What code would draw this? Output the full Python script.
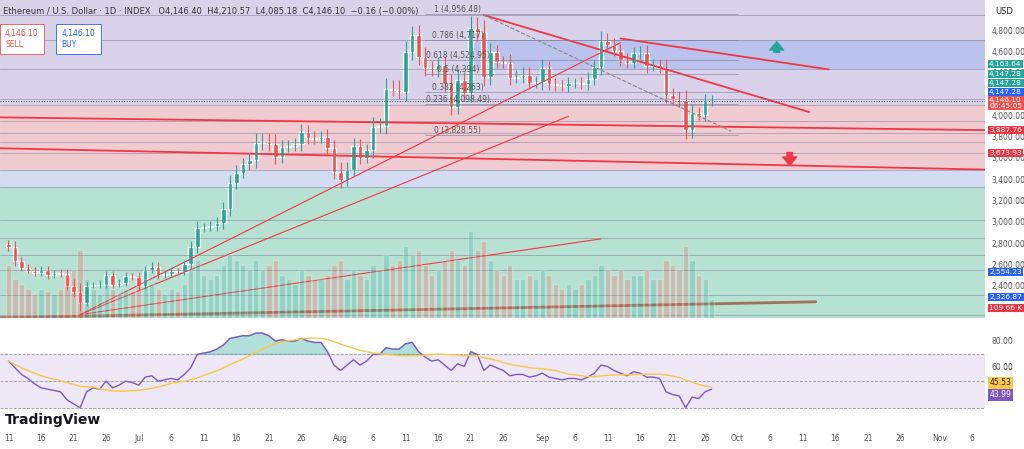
import numpy as np, pandas as pd, seaborn as sns, matplotlib
matplotlib.use("Agg")
import matplotlib.pyplot as plt

sns.set_style("white")
start = pd.Timestamp("2025-06-11")
closes = [2770,2640,2580,2550,2530,2560,2510,2530,2520,2410,2350,2250,2410,2420,2420,2510,2420,2440,2500,2490,
          2410,2560,2590,2510,2520,2550,2540,2610,2770,2950,2960,2970,3000,3130,3370,3470,3550,3590,3750,3760,
          3740,3620,3710,3720,3740,3850,3800,3790,3810,3700,3480,3400,3500,3720,3610,3680,3900,3910,4260,4250,
          4230,4600,4760,4560,4450,4430,4480,4300,4090,4340,4220,4830,4790,4370,4600,4510,4500,4360,4370,4390,
          4310,4320,4450,4300,4290,4280,4310,4310,4300,4350,4460,4710,4670,4610,4530,4500,4590,4590,4470,4480,
          4450,4200,4160,4150,3870,4030,4010,4140,4146]
opens = [2800] + closes[:-1]
wick = [40,60,40,30,40,40,40,30,40,50,60,90,40,30,40,40,40,30,40,30,
        50,40,40,40,30,40,30,40,60,70,40,50,60,70,80,70,60,70,90,80,
        80,90,70,60,60,80,70,60,50,70,80,90,70,80,70,60,90,70,100,80,
        90,110,90,100,90,70,80,90,100,90,80,110,100,110,90,70,60,80,60,70,
        70,60,90,70,60,50,60,50,60,70,70,90,70,60,70,60,60,70,80,60,
        60,90,70,80,100,90,60,70,50]
volume = [55,40,35,30,25,30,28,25,30,45,50,70,40,30,25,35,30,25,30,28,
          45,40,35,30,25,30,28,35,50,60,45,40,45,55,65,60,55,50,60,50,
          55,60,45,40,35,50,45,40,40,45,55,60,40,50,45,40,55,50,65,55,
          60,75,65,70,55,45,50,60,70,60,55,90,70,80,60,50,45,55,40,40,
          45,40,50,45,35,30,35,30,35,40,45,55,50,45,50,40,45,45,50,40,
          40,60,55,50,75,60,45,40,20]
rsi = [65,60,55,52,48,45,44,43,42,36,33,30,42,45,44,50,45,47,50,49,
       47,53,54,50,51,52,51,55,60,70,71,72,74,77,82,83,84,84,86,86,
       84,80,81,80,80,82,80,79,79,72,62,58,62,66,62,65,70,70,75,74,
       74,78,79,72,68,65,66,62,58,63,61,72,70,58,62,60,58,54,55,55,
       53,54,56,53,52,51,52,52,51,53,56,62,61,58,56,54,57,56,53,53,
       52,42,40,39,30,38,37,42,44]
price_ticks = [4800,4600,4400,3400,3200,3000,2800,2600,2400,3800,3600,4000]
tag_colors = ["#26a69a","#26a69a","#26a69a","#2962ff","#ef5350","#f23645","#f23645","#2962ff","#2962ff","#f23645"]
tag_text = ["4,163.64","4,147.28","4,147.28","4,147.28","4,146.10\n06:45:05","3,887.76","3,673.93","2,554.23","2,326.87","109.66 K"]
tag_px = [64,74,83,92,103,130,153,272,297,308]

n = len(closes); x = np.arange(n)
fig = plt.figure(figsize=(10.24,4.49), dpi=100)
ax = fig.add_axes([0,0.292,0.962,0.708])
ylo, yhi = 2109, 5091
ax.set_ylim(ylo, yhi); ax.set_xlim(-1.3, 150)
ax.axhspan(4106, yhi, color="#b9aedb", alpha=0.55, lw=0)
ax.axhspan(3497, 4106, color="#e9a9b4", alpha=0.6, lw=0)
ax.axhspan(3338, 3497, color="#b8c6ec", alpha=0.6, lw=0)
ax.axhspan(ylo, 3338, color="#9fd8c3", alpha=0.75, lw=0)
ax.axhspan(4440, 4720, xmin=0.48, color="#9fb5ef", alpha=0.5, lw=0)
for p in [4950,4720,4440,4160,4106,3960,3840,3760,3660,3497,3338,3030,2860,2700,2554,2326,2140]:
    ax.axhline(p, color="#6b6b8a", lw=0.5, alpha=0.6)
axv = ax.twinx(); axv.set_ylim(0, 330); axv.axis("off")
vc = ["#26a69a" if c >= o else "#ef5350" for o, c in zip(opens, closes)]
axv.bar(x, volume, width=0.8, color=vc, alpha=0.25)
ax.plot([-1.3,150],[3990,3870],color="#f23645",lw=1.3)
ax.plot([-1.3,150],[3700,3500],color="#f23645",lw=1.3)
ax.plot([73,123],[4950,4040],color="#f23645",lw=1.3)
ax.plot([94,126],[4730,4440],color="#f23645",lw=1.3)
ax.plot([11,94],[2140,4690],color="#f23645",lw=0.8)
ax.plot([11,86],[2140,4000],color="#f23645",lw=0.8)
ax.plot([11,91],[2140,2850],color="#f23645",lw=0.8)
ax.plot([-1.3,124],[2110,2260],color="#a0725a",lw=2)
ax.plot([73,111],[4950,3860],color="#888",lw=0.8,ls="--")
for p,l in [(4956,"1 (4,956.48)"),(4717,"0.786 (4,717)"),(4524,"0.618 (4,524.95)"),(4394,"0.5 (4,394)"),(4230,"0.382 (4,263)"),(4120,"0.236 (4,098.49)"),(3828,"0 (3,828.55)")]:
    ax.plot([64,112],[p,p],color="#7f7f9f",lw=0.6,alpha=0.7)
    ax.text(69,p,l,fontsize=5.5,color="#555",va="bottom",ha="center")
ax.axhline(4146.1,color="#555",lw=0.7,ls=":")
cols = ["#26a69a" if c >= o else "#ef5350" for o, c in zip(opens, closes)]
hi = [max(o,c)+w for o,c,w in zip(opens,closes,wick)]
lo = [min(o,c)-w*0.8 for o,c,w in zip(opens,closes,wick)]
ax.vlines(x, lo, hi, color=cols, lw=0.8)
ax.bar(x, np.array(closes)-np.array(opens), bottom=opens, width=0.7, color=cols)
ax.annotate("",xy=(118,4700),xytext=(118,4600),arrowprops=dict(color="#26a69a",width=4,headwidth=10,headlength=6))
ax.annotate("",xy=(120,3540),xytext=(120,3660),arrowprops=dict(color="#f23645",width=4,headwidth=10,headlength=6))
ax.set_xticks([]); ax.set_yticks([])
for s in ax.spines.values(): s.set_visible(False)
for p in price_ticks:
    fig.text(0.968,(p-ylo)/(yhi-ylo)*0.708+0.292,f"{p:,.2f}",fontsize=5.5,color="#555",va="center")
for c,t,py in zip(tag_colors,tag_text,tag_px):
    fig.text(0.966,1-py/449,t,fontsize=5.3,color="white",va="center",linespacing=0.9,
             bbox=dict(boxstyle="square,pad=0.2",fc=c,ec="none"))
fig.text(0.972,0.975,"USD",fontsize=6,va="center")
fig.text(0.003,0.985,"Ethereum / U.S. Dollar · 1D · INDEX   O4,146.40  H4,210.57  L4,085.18  C4,146.10  −0.16 (−0.00%)",fontsize=6,va="top",color="#333")
fig.text(0.005,0.935,"4,146.10\nSELL",fontsize=5.5,color="#ef5350",va="top",bbox=dict(fc="white",ec="#ef5350",lw=0.6))
fig.text(0.06,0.935,"4,146.10\nBUY",fontsize=5.5,color="#2962ff",va="top",bbox=dict(fc="white",ec="#2962ff",lw=0.6))
ar = fig.add_axes([0,0.05,0.962,0.232])
ar.set_xlim(-1.3,150); ar.set_ylim(16,94)
ar.axhspan(30,70,color="#ede7f6",lw=0)
for h in [70,50,30]: ar.axhline(h,color="#999",lw=0.6,ls="--")
sns.lineplot(x=x,y=rsi,ax=ar,color="#7e57c2",lw=1)
ma = pd.Series(rsi).rolling(14,min_periods=1).mean()
sns.lineplot(x=x,y=ma,ax=ar,color="#f7c948",lw=1)
r = np.array(rsi,float)
ar.fill_between(x,70,r,where=r>70,color="#26a69a",alpha=0.35,interpolate=True)
ar.fill_between(x,30,r,where=r<30,color="#ef5350",alpha=0.35,interpolate=True)
ar.set_yticks([]); ar.set_xticks([])
for s in ar.spines.values(): s.set_visible(False)
for v in [80,60]:
    fig.text(0.968,0.05+(v-16)/78*0.232,f"{v:.2f}",fontsize=5.5,color="#555",va="center")
fig.text(0.966,0.05+(45.53-16)/78*0.232+0.01,"45.53",fontsize=5.5,va="center",bbox=dict(boxstyle="square,pad=0.2",fc="#f7c948",ec="none"))
fig.text(0.966,0.05+(43.99-16)/78*0.232-0.012,"43.99",fontsize=5.5,color="white",va="center",bbox=dict(boxstyle="square,pad=0.2",fc="#7e57c2",ec="none"))
fig.text(0.005,0.055,"TradingView",fontsize=10,fontweight="bold",color="#131722")
dates = pd.date_range(start, periods=150)
for i,d in enumerate(dates):
    if d.day == 1: lab = d.strftime("%b")
    elif d.day in (6,11,16,21,26): lab = str(d.day)
    else: continue
    xf = (i+1.3)/151.3*0.962
    fig.text(xf,0.018,lab,fontsize=5.5,color="#555",ha="center")
fig.savefig("out.png",dpi=100)
